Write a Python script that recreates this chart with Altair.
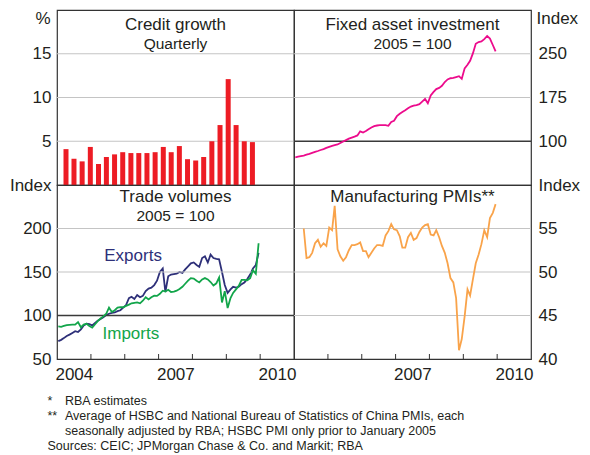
import altair as alt
import pandas as pd

# ---------------- data ----------------
quarters = [f"{y}-Q{q}" for y in range(2004, 2010) for q in range(1, 5)]
credit_growth = [4.1, 3.0, 2.7, 4.35, 2.4, 3.2, 3.5, 3.75,
                 3.65, 3.65, 3.65, 3.75, 4.35, 3.75, 4.45, 2.95,
                 2.8, 3.2, 5.0, 6.85, 12.1, 6.85, 5.0, 4.9]

fai_start = "2004-01"
fixed_asset = [72.5, 73.5, 74.5, 75.5, 77, 78.3, 80, 81.8, 83.3, 85, 86.5, 88.5,
               90.3, 92, 93.3, 94.5, 97, 99.5, 102, 104.5, 106.3, 108, 110, 117,
               115, 117.5, 120.5, 123.5, 126, 127, 127.5, 127.5, 127.5, 126.5, 133, 135,
               143, 147, 150, 153, 156.5, 159.5, 161, 162, 163.5, 168, 172.5, 165,
               178.5, 184.5, 189.5, 191.5, 195, 201.5, 206, 208, 208.5, 210, 211.5, 207,
               225, 231, 238, 251, 267, 270, 271, 275, 280.5, 276, 265, 254]

trade_start = "2004-01"
exports = [70.5, 72, 74, 76.5, 78, 80, 82, 81, 84, 88.5, 90.5, 90,
           88.6, 91.5, 94, 96, 98, 100.5, 102, 103, 103.5, 105, 106, 109,
           112, 120, 121.5, 119, 123.5, 121, 122.5, 128, 131, 132, 135, 140,
           150, 154, 127, 145, 147, 147.5, 148, 150, 149, 153, 156.5, 160,
           161, 158, 156, 166, 168, 161, 170, 166, 165, 164.5, 150, 135,
           126, 130, 133, 132, 133, 136, 138, 142, 147, 154, 158, 172]
imports = [87.5, 87, 88, 89, 89.3, 89.5, 89.5, 92.4, 86.5, 89.5, 90.5, 88,
           86, 90, 93.5, 96.5, 99, 102, 109, 104, 106, 109, 109.5, 109.5,
           111, 112.5, 114, 114.5, 115, 114, 117, 121, 118.5, 121, 122.8, 122.5,
           125, 128.5, 127.5, 129.5, 127, 127.5, 128.5, 130.5, 133, 136.5, 140, 143,
           142.5, 140, 138, 141.5, 143, 141.5, 138.5, 134.5, 137, 143.8, 115, 128,
           108.5, 120, 126, 130, 134, 141, 141, 140.5, 143, 152, 148, 183]

pmi_start = "2004-04"
pmi = [55, 51.6, 51.7, 52.2, 53.3, 53.7, 52.9, 53.3, 53,
       55.1, 54.8, 57.6, 52.6, 51.8, 51.3, 51.7, 52.5, 53.1, 53.1, 53.2, 53.4,
       52.4, 52.4, 51.7, 52.2, 52.7, 53.1, 53.1, 53.0, 54.2, 54.7, 55.5, 54.9,
       54.8, 54.1, 52.8, 52.8, 54, 54.5, 53.7, 53.9, 54.6, 55.1, 55.4, 55.5,
       54.3, 54.2, 54.8, 54, 53, 52.2, 51, 49.3, 48.8, 47, 41, 42.3,
       44.9, 48, 47.3, 49.2, 51, 52, 53.2, 54.8, 54, 56.2, 56.8, 57.8]

year_ticks = [2005, 2006, 2007, 2008, 2009, 2010]
left_year_labels = [2004, 2007, 2010]
right_year_labels = [2007, 2010]

series_names = ["Exports", "Imports"]
series_label_dates = ["2006-04-01", "2006-03-08"]
series_label_values = [162.5, 73]

titles = {
    "tl": ["Credit growth", "Quarterly"],
    "tr": ["Fixed asset investment", "2005 = 100"],
    "bl": ["Trade volumes", "2005 = 100"],
    "br": ["Manufacturing PMIs**"],
}
footnote_marks = ["*", "**", "", "Sources: CEIC; JPMorgan Chase & Co. and Markit; RBA"]
footnote_texts = ["RBA estimates",
                  "Average of HSBC and National Bureau of Statistics of China PMIs, each",
                  "seasonally adjusted by RBA; HSBC PMI only prior to January 2005", ""]

# ---------------- styling ----------------
FONT = "Liberation Sans"
TXT = "#231f20"
FRAME = "#333333"
GRID = "#c4c4c4"
DARK = "#3a3a3a"
RED = "#ed1c24"
MAGENTA = "#ec0b8c"
NAVY = "#2e3079"
GREEN = "#12a54a"
ORANGE = "#f9a34a"
W = 237
HT = 175
HB = 174


def monthly(start, values):
    d = pd.date_range(start=start + "-01", periods=len(values), freq="MS") + pd.Timedelta(days=14)
    return pd.DataFrame({"date": d, "value": values})


credit_df = pd.DataFrame({
    "date": [pd.Timestamp(year=int(q[:4]), month=3 * (int(q[-1]) - 1) + 2, day=15) for q in quarters],
    "value": credit_growth,
})
fai_df = monthly(fai_start, fixed_asset)
exp_df = monthly(trade_start, exports)
imp_df = monthly(trade_start, imports)
pmi_df = monthly(pmi_start, pmi)
tick_df = pd.DataFrame({"date": [pd.Timestamp(year=y, month=1, day=1) for y in year_ticks]})


def xscale():
    return alt.Scale(domain=[alt.DateTime(year=2004, month=1, date=1),
                             alt.DateTime(year=2011, month=1, date=1)], nice=False)


def xaxis(years):
    return alt.Axis(values=[alt.DateTime(year=y, month=7, date=1) for y in years],
                    format="%Y", ticks=False, domain=False, grid=False,
                    labelPadding=7, title=None, labelOverlap=False)


def grid_layer(vals, scale, color=GRID, width=1.2):
    return alt.Chart(pd.DataFrame({"v": vals})).mark_rule(color=color, strokeWidth=width).encode(
        y=alt.Y("v:Q", scale=scale))


def title_layers(lines, w, y0, y1):
    out = []
    for i, t in enumerate(lines):
        out.append(alt.Chart(pd.DataFrame({"t": [t]})).mark_text(
            fontSize=17 if i == 0 else 15.5, align="center", baseline="alphabetic", color=TXT
        ).encode(x=alt.value(w / 2), y=alt.value(y0 if i == 0 else y1), text="t:N"))
    return out


def tick_layer(h):
    return alt.Chart(tick_df).mark_rule(color=FRAME, strokeWidth=1).encode(
        x=alt.X("date:T", scale=xscale()), y=alt.value(h - 5), y2=alt.value(h))


# ---- top-left: credit growth
tl_scale = alt.Scale(domain=[0, 20], nice=False, zero=True)
tl_bars = alt.Chart(credit_df).mark_bar(color=RED, width=5).encode(
    x=alt.X("date:T", scale=xscale(), axis=None),
    y=alt.Y("value:Q", scale=tl_scale,
            axis=alt.Axis(values=[5, 10, 15], ticks=False, domain=False, grid=False,
                          labelPadding=6, title="%", titleAngle=0, titleAlign="right",
                          titleBaseline="middle", titleX=-7, titleY=8)),
)
tl = alt.layer(grid_layer([5, 10, 15], tl_scale), tl_bars,
               *title_layers(titles["tl"], W, 20, 38.5)).properties(width=W, height=HT)

# ---- top-right: fixed asset investment
tr_scale = alt.Scale(domain=[25, 325], nice=False, zero=False)
tr_line = alt.Chart(fai_df).mark_line(color=MAGENTA, strokeWidth=1.8).encode(
    x=alt.X("date:T", scale=xscale(), axis=None),
    y=alt.Y("value:Q", scale=tr_scale,
            axis=alt.Axis(orient="right", values=[100, 175, 250], ticks=False, domain=False,
                          grid=False, labelPadding=7, title="Index", titleAngle=0,
                          titleAlign="left", titleBaseline="middle", titleX=5, titleY=8)),
)
tr = alt.layer(grid_layer([175, 250], tr_scale), grid_layer([100], tr_scale, DARK, 1.3),
               tr_line, *title_layers(titles["tr"], W, 20, 38.5)).properties(width=W, height=HT)

# ---- bottom-left: trade volumes
bl_scale = alt.Scale(domain=[50, 250], nice=False, zero=False)
bl_yaxis = alt.Axis(values=[50, 100, 150, 200, 250], ticks=False, domain=False, grid=False,
                    labelPadding=6, title=None,
                    labelExpr="datum.value == 250 ? 'Index' : datum.label")
bl_exp = alt.Chart(exp_df).mark_line(color=NAVY, strokeWidth=1.8).encode(
    x=alt.X("date:T", scale=xscale(), axis=xaxis(left_year_labels)),
    y=alt.Y("value:Q", scale=bl_scale, axis=bl_yaxis),
)
bl_imp = alt.Chart(imp_df).mark_line(color=GREEN, strokeWidth=1.8).encode(
    x=alt.X("date:T", scale=xscale()),
    y=alt.Y("value:Q", scale=bl_scale),
)
lab_df = pd.DataFrame({"name": series_names, "date": pd.to_datetime(series_label_dates),
                       "value": series_label_values})
bl_labels = alt.Chart(lab_df).mark_text(fontSize=17, align="center", baseline="alphabetic").encode(
    x=alt.X("date:T", scale=xscale()),
    y=alt.Y("value:Q", scale=bl_scale),
    text="name:N",
    color=alt.Color("name:N", scale=alt.Scale(domain=series_names, range=[NAVY, GREEN]), legend=None),
)
foot = []
for i in range(4):
    if footnote_marks[i]:
        foot.append(alt.Chart(pd.DataFrame({"t": [footnote_marks[i]]})).mark_text(
            fontSize=12.5, align="left", baseline="alphabetic", color=TXT).encode(
            x=alt.value(-9.5), y=alt.value(220.3 + 15 * i), text="t:N"))
    if footnote_texts[i]:
        foot.append(alt.Chart(pd.DataFrame({"t": [footnote_texts[i]]})).mark_text(
            fontSize=12.5, align="left", baseline="alphabetic", color=TXT).encode(
            x=alt.value(8), y=alt.value(220.3 + 15 * i), text="t:N"))
bl = alt.layer(bl_exp, grid_layer([150, 200], bl_scale), grid_layer([100], bl_scale, DARK, 1.3),
               tick_layer(HB), bl_imp, bl_labels,
               *title_layers(titles["bl"], W, 17, 35.5), *foot).properties(width=W, height=HB)

# ---- bottom-right: PMIs
br_scale = alt.Scale(domain=[40, 60], nice=False, zero=False)
br_line = alt.Chart(pmi_df).mark_line(color=ORANGE, strokeWidth=1.8).encode(
    x=alt.X("date:T", scale=xscale(), axis=xaxis(right_year_labels)),
    y=alt.Y("value:Q", scale=br_scale,
            axis=alt.Axis(orient="right", values=[40, 45, 50, 55, 60], ticks=False,
                          domain=False, grid=False, labelPadding=7, title=None,
                          labelExpr="datum.value == 60 ? 'Index' : datum.label")),
)
br = alt.layer(grid_layer([45, 50, 55], br_scale), tick_layer(HB), br_line,
               *title_layers(titles["br"], W, 17, 35.5)).properties(width=W, height=HB)

chart = alt.concat(tl, tr, bl, br, columns=2, spacing=0).properties(
    bounds="flush", padding={"left": 0, "top": 0, "right": 0, "bottom": 0}
).configure_view(stroke=FRAME, strokeWidth=1.2).configure_axis(
    labelFont=FONT, labelFontSize=17, labelColor=TXT,
    titleFont=FONT, titleFontSize=17, titleFontWeight="normal", titleColor=TXT,
).configure_text(font=FONT)

chart.save("out.html", embed_options={"renderer": "svg", "actions": False})
